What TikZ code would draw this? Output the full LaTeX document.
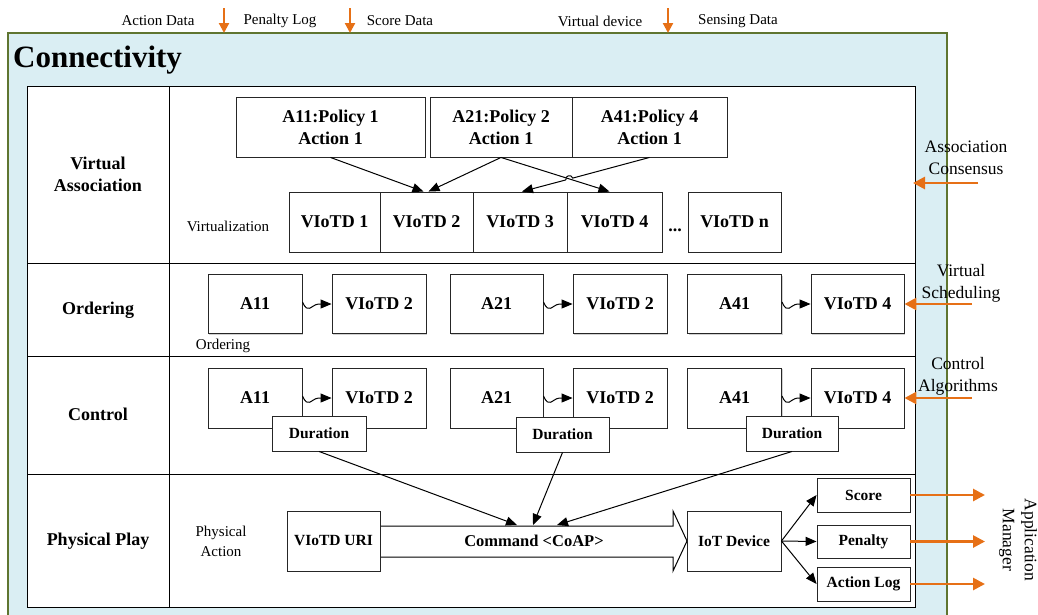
\documentclass[tikz,border=0pt]{standalone}
\usepackage{fontspec}
\setmainfont{Liberation Serif}
\usetikzlibrary{arrows.meta,shadows,calc}
\definecolor{cfill}{RGB}{218,238,243}
\definecolor{cgreen}{RGB}{95,117,48}
\definecolor{corange}{RGB}{230,112,22}
\newcommand{\squigarrow}[2]{\draw[arr] ([yshift=2pt]#1.east) .. controls +(6,13) and +(-8,1) .. ($(#2.west)+(-13,0)$) -- (#2.west);}
\begin{document}
\begin{tikzpicture}[x=1pt,y=-1pt,
  box/.style={draw=black!85, line width=0.9pt, fill=white, inner sep=0pt, align=center,
    font=\bfseries\fontsize{18}{22}\selectfont,
    general shadow={fill=black!18, shadow xshift=1pt, shadow yshift=-1.2pt}},
  smallbox/.style={box, font=\bfseries\fontsize{15.5}{18}\selectfont},
  lbl/.style={inner sep=0pt, align=center, font=\fontsize{15}{20}\selectfont},
  rlbl/.style={inner sep=0pt, align=center, font=\fontsize{17.5}{22}\selectfont},
  collbl/.style={inner sep=0pt, align=center, font=\bfseries\fontsize{18}{22}\selectfont},
  arr/.style={line width=1pt, -{Triangle[length=11pt,width=9pt]}},
  oarr/.style={draw=corange, line width=2.7pt, -{Triangle[length=12pt,width=12pt]}},
  larr/.style={draw=corange, line width=2.2pt, -{Triangle[length=10pt,width=10pt]}},
]
\useasboundingbox (0,0) rectangle (1038,614);
% frame
\draw[cgreen, line width=2.8pt, fill=cfill] (8,33) rectangle (947,640);
\node[anchor=west, inner sep=0pt, font=\bfseries\fontsize{31}{34}\selectfont] (conn) at (13,60) {Connectivity};
% table
\draw[line width=1pt, fill=white] (27,86) rectangle (915,607);
\draw[line width=1pt] (169,86) -- (169,607);
\foreach \yy in {263,356,474} \draw[line width=1pt] (27,\yy) -- (915,\yy);
% left labels
\node[collbl] (l1) at (98,174) {Virtual\\Association};
\node[collbl] (l2) at (98,310) {Ordering};
\node[collbl] (l3) at (98,414) {Control};
\node[collbl] (l4) at (98,541) {Physical Play};
% legend
\node[lbl] (lg1) at (158,21) {Action Data};
\node[lbl] (lg2) at (280,21) {Penalty Log};
\node[lbl] (lg3) at (400,21) {Score Data};
\node[lbl] (lg4) at (600,21) {Virtual device};
\node[lbl] (lg5) at (738,21) {Sensing Data};
\coordinate (la1) at (224,8); \coordinate (lb1) at (224,33);
\coordinate (la2) at (350,8); \coordinate (lb2) at (350,33);
\coordinate (la3) at (668,8); \coordinate (lb3) at (668,33);
\draw[larr] (la1) -- (lb1);
\draw[larr] (la2) -- (lb2);
\draw[larr] (la3) -- (lb3);
% virtual association row
\node[box, minimum width=189pt, minimum height=60pt] (a11) at (330.5,127) {A11:Policy 1\\Action 1};
\node[box, minimum width=142pt, minimum height=60pt] (a21) at (501,127) {A21:Policy 2\\Action 1};
\node[box, minimum width=155pt, minimum height=60pt] (a41) at (649.5,127) {A41:Policy 4\\Action 1};
\node[box, minimum width=91pt, minimum height=60pt] (v1) at (334.5,222) {VIoTD 1};
\node[box, minimum width=93pt, minimum height=60pt] (v2) at (426.5,222) {VIoTD 2};
\node[box, minimum width=94pt, minimum height=60pt] (v3) at (520,222) {VIoTD 3};
\node[box, minimum width=95pt, minimum height=60pt] (v4) at (614.5,222) {VIoTD 4};
\node[box, minimum width=93pt, minimum height=60pt] (vn) at (734.5,222) {VIoTD n};
\node[collbl] (dots) at (675,230) {...};
\node[lbl] (virt) at (228,226) {Virtualization};
\draw[arr] (a11.south) -- ([xshift=-3pt]v2.north);
\draw[arr] (a21.south) -- ([xshift=2pt]v2.north);
\draw[arr] (a21.south) -- ([xshift=-5pt]v4.north);
\coordinate (h1) at (572.7,178.1);
\coordinate (h2) at (565.9,179.9);
\draw[line width=1pt] (a41.south) -- (h1) .. controls (571.5,173.8) and (564.7,175.6) .. (h2);
\draw[arr] (h2) -- ([xshift=2pt]v3.north);
% ordering row
\node[box, minimum width=94pt, minimum height=59pt] (oa11) at (255,304) {A11};
\node[box, minimum width=94pt, minimum height=59pt] (ov2) at (379,304) {VIoTD 2};
\node[box, minimum width=93pt, minimum height=59pt] (oa21) at (496.5,304) {A21};
\node[box, minimum width=94pt, minimum height=59pt] (ov2b) at (620,304) {VIoTD 2};
\node[box, minimum width=94pt, minimum height=59pt] (oa41) at (734.5,304) {A41};
\node[box, minimum width=93pt, minimum height=59pt] (ov4) at (857.5,304) {VIoTD 4};
\node[lbl] (ordlbl) at (223,346) {Ordering};
\squigarrow{oa11}{ov2}
\squigarrow{oa21}{ov2b}
\squigarrow{oa41}{ov4}
% control row
\node[box, minimum width=94pt, minimum height=60pt] (ca11) at (255,398) {A11};
\node[box, minimum width=94pt, minimum height=60pt] (cv2) at (379,398) {VIoTD 2};
\node[box, minimum width=93pt, minimum height=60pt] (ca21) at (496.5,398) {A21};
\node[box, minimum width=94pt, minimum height=60pt] (cv2b) at (620,398) {VIoTD 2};
\node[box, minimum width=94pt, minimum height=60pt] (ca41) at (734.5,398) {A41};
\node[box, minimum width=93pt, minimum height=60pt] (cv4) at (857.5,398) {VIoTD 4};
\squigarrow{ca11}{cv2}
\squigarrow{ca21}{cv2b}
\squigarrow{ca41}{cv4}
\node[smallbox, minimum width=94pt, minimum height=35pt] (d1) at (319,433.5) {Duration};
\node[smallbox, minimum width=93pt, minimum height=35pt] (d2) at (562.5,434.5) {Duration};
\node[smallbox, minimum width=92pt, minimum height=35pt] (d3) at (792,433.5) {Duration};
% physical row
\node[lbl] (pa) at (221,541) {Physical\\Action};
\draw[line width=1pt, fill=white] (380,526) -- (673,526) -- (673,511) -- (687,541) -- (673,571) -- (673,557) -- (380,557);
\node[inner sep=0pt, font=\bfseries\fontsize{16.5}{20}\selectfont] (cmd) at (534,541) {Command <CoAP>};
\node[smallbox, minimum width=93pt, minimum height=60pt] (uri) at (333.5,541) {VIoTD URI};
\node[smallbox, minimum width=94pt, minimum height=60pt] (iot) at (734,541) {IoT Device};
\node[smallbox, minimum width=93pt, minimum height=34pt] (score) at (863.5,495) {Score};
\node[smallbox, minimum width=93pt, minimum height=33pt] (pen) at (863.5,541.5) {Penalty};
\node[smallbox, minimum width=93pt, minimum height=34pt] (alog) at (863.5,584) {Action Log};
\coordinate (c1) at (517,525);
\coordinate (c2) at (533,525);
\coordinate (c3) at (557,525);
\draw[arr] (d1.south) -- (c1);
\draw[arr] (d2.south) -- (c2);
\draw[arr] (d3.south) -- (c3);
\draw[arr] (iot.east) -- (score.west);
\draw[arr] (iot.east) -- (pen.west);
\draw[arr] (iot.east) -- (alog.west);
% right side
\node[rlbl] (r1) at (966,158) {Association\\Consensus};
\node[rlbl] (r2) at (961,283) {Virtual\\Scheduling};
\node[rlbl] (r3) at (958,376) {Control\\Algorithms};
\coordinate (t1) at (978,183); \coordinate (e1) at (913,183);
\coordinate (t2) at (972,304);
\coordinate (t3) at (972,398);
\draw[oarr] (t1) -- (e1);
\draw[oarr] (t2) -- (ov4.east);
\draw[oarr] (t3) -- (cv4.east);
\node[rlbl, rotate=-90] (am) at (1018,540) {Application\\Manager};
\coordinate (o1) at (985,495);
\coordinate (o2) at (985,541.5);
\coordinate (o3) at (985,584);
\draw[oarr] (score.east) -- (o1);
\draw[oarr] (pen.east) -- (o2);
\draw[oarr] (alog.east) -- (o3);
\end{tikzpicture}
\end{document}
